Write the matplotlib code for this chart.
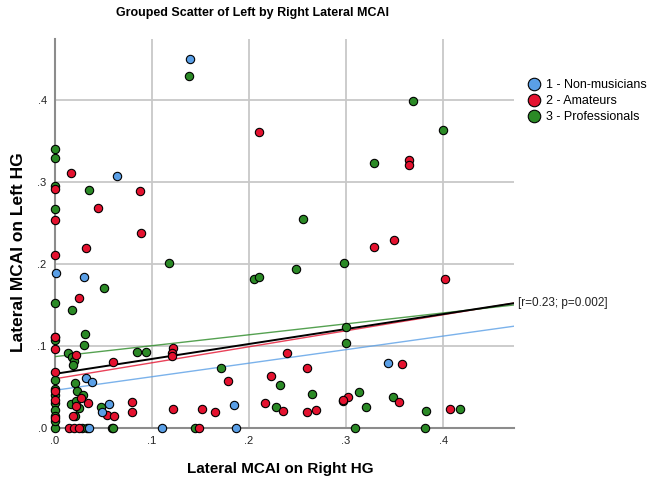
import numpy as np
import matplotlib
matplotlib.use("Agg")
import matplotlib.pyplot as plt
from matplotlib.lines import Line2D
from matplotlib.ticker import FuncFormatter

plt.rcParams['font.family'] = ['Liberation Sans', 'DejaVu Sans']

# group names and colours
groups = ['1 - Non-musicians', '2 - Amateurs', '3 - Professionals']
colors = ['#5a9fe6', '#e4122f', '#2b8a26']

# 1 - Non-musicians (right HG, left HG)
x_non = [0.139, 0.064, 0.001, 0.030, 0.032, 0.038, 0.056, 0.048, 0.035, 0.110,
         0.184, 0.187, 0.343]
y_non = [0.449, 0.307, 0.189, 0.184, 0.061, 0.056, 0.029, 0.020, 0.000, 0.000,
         0.028, 0.000, 0.079]

# 2 - Amateurs
x_ama = [0.016, 0.088, 0.044, 0.000, 0.000, 0.089, 0.032, 0.000, 0.025, 0.000,
         0.000, 0.022, 0.060, 0.122, 0.121, 0.121, 0.000, 0.034, 0.079, 0.079,
         0.054, 0.061, 0.122, 0.151, 0.165, 0.014, 0.020, 0.025, 0.148, 0.019,
         0.178, 0.329, 0.349, 0.402, 0.239, 0.260, 0.358, 0.223, 0.216, 0.235,
         0.260, 0.269, 0.302, 0.297, 0.354, 0.407, 0.210, 0.365, 0.365, 0.000,
         0.000, 0.000, 0.027, 0.022]
y_ama = [0.311, 0.289, 0.268, 0.254, 0.291, 0.237, 0.219, 0.211, 0.159, 0.111,
         0.096, 0.089, 0.080, 0.098, 0.091, 0.088, 0.068, 0.030, 0.032, 0.020,
         0.016, 0.015, 0.023, 0.023, 0.020, 0.000, 0.000, 0.000, 0.000, 0.015,
         0.057, 0.220, 0.229, 0.181, 0.092, 0.073, 0.078, 0.063, 0.030, 0.021,
         0.019, 0.022, 0.038, 0.034, 0.032, 0.023, 0.361, 0.326, 0.320, 0.034,
         0.012, 0.045, 0.037, 0.027]

# 3 - Professionals
x_pro = [0.138, 0.000, 0.000, 0.000, 0.035, 0.000, 0.369, 0.400, 0.329, 0.256,
         0.298, 0.248, 0.205, 0.210, 0.300, 0.300, 0.171, 0.232, 0.265, 0.313,
         0.297, 0.348, 0.228, 0.320, 0.382, 0.417, 0.309, 0.381, 0.117, 0.051,
         0.000, 0.018, 0.031, 0.030, 0.000, 0.000, 0.013, 0.018, 0.020, 0.019,
         0.085, 0.094, 0.021, 0.023, 0.029, 0.016, 0.022, 0.025, 0.021, 0.047,
         0.000, 0.028, 0.059, 0.144, 0.000, 0.000, 0.000, 0.000, 0.000, 0.000,
         0.000, 0.033, 0.060]
y_pro = [0.429, 0.340, 0.329, 0.295, 0.290, 0.267, 0.398, 0.363, 0.323, 0.255,
         0.201, 0.194, 0.182, 0.184, 0.123, 0.103, 0.073, 0.053, 0.042, 0.044,
         0.033, 0.038, 0.026, 0.026, 0.021, 0.023, 0.000, 0.000, 0.201, 0.171,
         0.152, 0.144, 0.115, 0.101, 0.111, 0.107, 0.091, 0.087, 0.082, 0.077,
         0.093, 0.093, 0.055, 0.045, 0.040, 0.029, 0.033, 0.024, 0.015, 0.026,
         0.000, 0.000, 0.000, 0.000, 0.058, 0.048, 0.040, 0.030, 0.022, 0.015,
         0.008, 0.000, 0.000]

# fit lines: (intercept, slope)
fit_groups = [(0.046, 0.165), (0.060, 0.195), (0.087, 0.133)]
fit_total = (0.066, 0.182)
fit_label = '[r=0.23; p=0.002]'

x_max, y_max = 0.473, 0.474

fig = plt.figure(figsize=(6.53, 4.8), dpi=100)
ax = fig.add_axes([0.0842, 0.1083, 0.7029, 0.8105])

series = [(x_pro, y_pro, 2), (x_ama, y_ama, 1), (x_non, y_non, 0)]
for xs, ys, gi in series:
    ax.scatter(xs, ys, s=36, color=colors[gi], edgecolors='black',
               linewidths=0.8, zorder=4, clip_on=False)

xf = np.array([0, x_max])
for (b0, b1), c in zip(fit_groups, colors):
    ax.plot(xf, b0 + b1 * xf, color=c, lw=1.0, zorder=3, alpha=0.8)
ax.plot(xf, fit_total[0] + fit_total[1] * xf, color='black', lw=1.4, zorder=3)
ax.text(x_max + 0.004, fit_total[0] + fit_total[1] * x_max, fit_label,
        fontsize=8.5, va='center', ha='left', color='#222222')

ax.set_xlim(0, x_max)
ax.set_ylim(0, y_max)
ticks = [0.0, 0.1, 0.2, 0.3, 0.4]
ax.set_xticks(ticks)
ax.set_yticks(ticks)
fmt = FuncFormatter(lambda v, p: '{:.1f}'.format(v).lstrip('0'))
ax.xaxis.set_major_formatter(fmt)
ax.yaxis.set_major_formatter(fmt)
ax.tick_params(length=0, labelsize=8, colors='#222222', pad=6)

ax.grid(True, color='#c8c8c8', lw=1.3)
ax.set_axisbelow(True)
for side in ['top', 'right']:
    ax.spines[side].set_visible(False)
for side in ['left', 'bottom']:
    ax.spines[side].set_color('#8c8c8c')
    ax.spines[side].set_linewidth(1.5)

ax.set_xlabel('Lateral MCAI on Right HG', fontsize=11, fontweight='bold')
ax.xaxis.set_label_coords(0.49, -0.088)
ax.set_ylabel('Lateral MCAI on Left HG', fontsize=12.5, fontweight='bold')
ax.yaxis.set_label_coords(-0.063, 0.452)
fig.text(0.386, 0.972, 'Grouped Scatter of Left by Right Lateral MCAI',
         fontsize=9, fontweight='bold', ha='center', va='center')

handles = [Line2D([], [], marker='o', ls='', markersize=9, markerfacecolor=c,
                  markeredgecolor='black', markeredgewidth=0.8) for c in colors]
fig.legend(handles, groups, loc='upper left', bbox_to_anchor=(0.8, 0.845),
           frameon=False, fontsize=9, handletextpad=0.45, labelspacing=0.3,
           borderaxespad=0, handlelength=1.0)

fig.savefig('out.png', dpi=100)
